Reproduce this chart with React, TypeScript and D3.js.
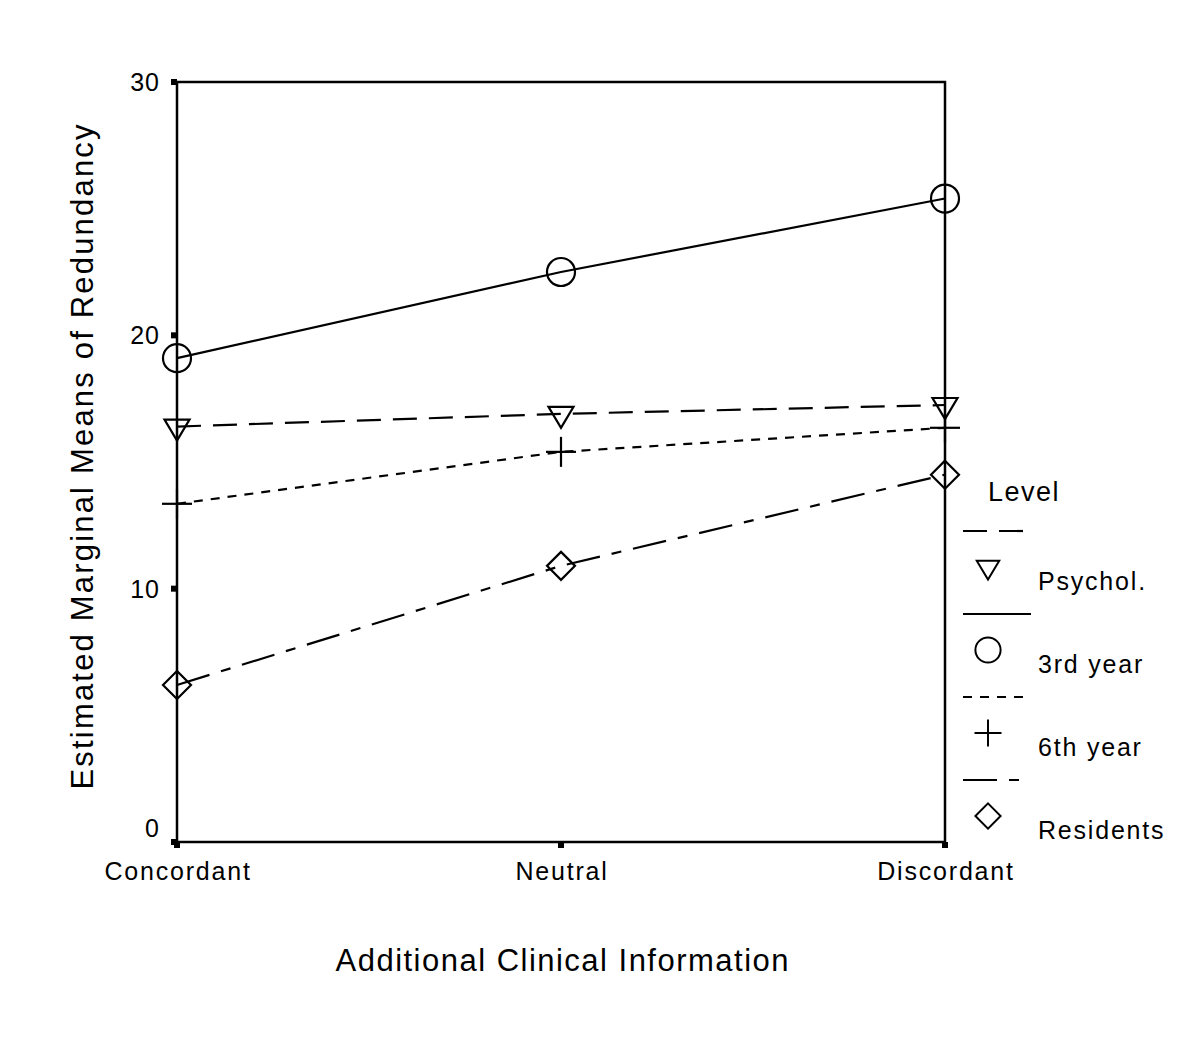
import React from "react";
import * as d3 from "d3";

const categories = ["Concordant", "Neutral", "Discordant"];
const yTicks = [0, 10, 20, 30];
const psychol = [16.4, 16.9, 17.25];
const thirdYear = [19.1, 22.5, 25.4];
const sixthYear = [13.35, 15.4, 16.35];
const residents = [6.2, 10.9, 14.5];

const seriesNames = ["Psychol.", "3rd year", "6th year", "Residents"];
const seriesValues = [psychol, thirdYear, sixthYear, residents];
const seriesDash = ["24,12", "", "9,8", "34,12,10,12"];
const seriesMarker = ["triangle", "circle", "plus", "diamond"];

const FONT = "'Liberation Sans', Arial, Helvetica, sans-serif";

function Marker({ type, x, y }: { type: string; x: number; y: number }) {
  const sw = 2.2;
  if (type === "circle") {
    return <circle cx={x} cy={y} r={14} fill="none" stroke="#000" strokeWidth={sw} />;
  }
  if (type === "triangle") {
    const w = 25, h = 21;
    const pts = [
      [x - w / 2, y - h / 3],
      [x + w / 2, y - h / 3],
      [x, y + (2 * h) / 3],
    ];
    return <polygon points={pts.map((p) => p.join(",")).join(" ")} fill="none" stroke="#000" strokeWidth={sw} />;
  }
  if (type === "diamond") {
    const r = 14;
    const pts = [
      [x, y - r],
      [x + r, y],
      [x, y + r],
      [x - r, y],
    ];
    return <polygon points={pts.map((p) => p.join(",")).join(" ")} fill="none" stroke="#000" strokeWidth={sw} />;
  }
  const r = 15;
  return (
    <g stroke="#000" strokeWidth={sw}>
      <line x1={x - r} x2={x + r} y1={y} y2={y} />
      <line x1={x} x2={x} y1={y - r} y2={y + r} />
    </g>
  );
}

export default function App() {
  const width = 1198;
  const height = 1038;
  const left = 177, right = 945, top = 82, bottom = 842;

  const x = d3.scalePoint<string>().domain(categories).range([left, right]);
  const y = d3.scaleLinear().domain([0, 30]).range([bottom, top]);

  const line = d3
    .line<number>()
    .x((_, i) => x(categories[i]) as number)
    .y((d) => y(d));

  const legendX = 963;
  const legendMarkerX = 988;
  const legendLabelX = 1038;
  const legendTop = 531;
  const legendStep = 83;

  return (
    <svg
      width={width}
      height={height}
      style={{ position: "absolute", left: 0, top: 0, background: "#fff" }}
      fontFamily={FONT}
    >
      <rect x={0} y={0} width={width} height={height} fill="#fff" />

      <rect x={left} y={top} width={right - left} height={bottom - top} fill="none" stroke="#000" strokeWidth={2.5} />

      {yTicks.map((t) => (
        <g key={"y" + t}>
          <rect x={left - 6} y={y(t) - 3} width={6} height={6} fill="#000" />
          <text x={160} y={t === 0 ? 837 : y(t) + 9} textAnchor="end" fontSize={25} letterSpacing={1}>
            {t}
          </text>
        </g>
      ))}

      {categories.map((c) => (
        <g key={"x" + c}>
          <rect x={(x(c) as number) - 3} y={bottom} width={6} height={6} fill="#000" />
          <text x={(x(c) as number) + 1} y={880} textAnchor="middle" fontSize={25} letterSpacing={1.8}>
            {c}
          </text>
        </g>
      ))}

      <text x={562} y={971} textAnchor="middle" fontSize={31} textLength={453} lengthAdjust="spacing">
        Additional Clinical Information
      </text>
      <text
        transform={`translate(93,457) rotate(-90)`}
        textAnchor="middle"
        fontSize={31}
        textLength={665}
        lengthAdjust="spacing"
      >
        Estimated Marginal Means of Redundancy
      </text>

      {seriesValues.map((vals, si) => (
        <g key={"s" + si}>
          <path
            d={line(vals) || ""}
            fill="none"
            stroke="#000"
            strokeWidth={2.2}
            strokeDasharray={seriesDash[si] || undefined}
          />
          {vals.map((v, i) => (
            <Marker key={i} type={seriesMarker[si]} x={x(categories[i]) as number} y={y(v)} />
          ))}
        </g>
      ))}

      <text x={988} y={501} fontSize={27} letterSpacing={1.5}>
        Level
      </text>
      {seriesNames.map((name, si) => {
        const ly = legendTop + si * legendStep;
        return (
          <g key={"l" + si}>
            <line
              x1={legendX}
              x2={1031}
              y1={ly}
              y2={ly}
              stroke="#000"
              strokeWidth={2.2}
              strokeDasharray={seriesDash[si] || undefined}
            />
            <g transform={`translate(${legendMarkerX},${ly + 36}) scale(0.9) translate(${-legendMarkerX},${-(ly + 36)})`}>
              <Marker type={seriesMarker[si]} x={legendMarkerX} y={ly + 36} />
            </g>
            <text x={legendLabelX} y={ly + 59} fontSize={25} letterSpacing={1.8}>
              {name}
            </text>
          </g>
        );
      })}
    </svg>
  );
}
